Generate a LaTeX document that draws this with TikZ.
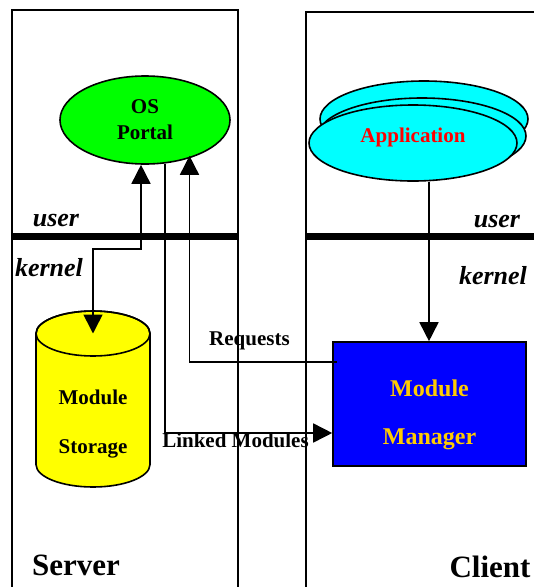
\documentclass[tikz,border=0pt]{standalone}
\usepackage{fontspec}
\setmainfont{Liberation Serif}
\usetikzlibrary{arrows.meta,shapes.geometric,calc}
\definecolor{portalgreen}{RGB}{0,255,0}
\definecolor{appcyan}{RGB}{0,255,255}
\definecolor{storyellow}{RGB}{255,255,0}
\definecolor{mgrblue}{RGB}{0,0,255}
\definecolor{mgrtext}{RGB}{255,204,0}
\definecolor{apptext}{RGB}{255,0,0}
\tikzset{
  thinline/.style={line width=1.6pt},
  conn/.style={line width=1.6pt, -{Triangle[length=19pt,width=19pt]}},
  dconn/.style={line width=1.6pt, {Triangle[length=19pt,width=19pt]}-{Triangle[length=19pt,width=19pt]}},
  lbl/.style={font=\bfseries\fontsize{21}{26}\selectfont, inner sep=0pt, anchor=base},
  layer/.style={font=\bfseries\itshape\fontsize{26}{30}\selectfont, inner sep=0pt, anchor=base},
  sidelbl/.style={font=\bfseries\fontsize{31}{36}\selectfont, inner sep=0pt, anchor=base},
  mgrlbl/.style={font=\bfseries\fontsize{24}{28}\selectfont, inner sep=0pt, anchor=base, text=mgrtext},
  portalshape/.style={ellipse, draw, thinline, fill=portalgreen, minimum width=170pt, minimum height=88pt, inner sep=0pt, align=center, font=\bfseries\fontsize{21}{26}\selectfont},
  appshape/.style={ellipse, draw, thinline, fill=appcyan, minimum width=208pt, minimum height=76pt, inner sep=0pt},
  mgrshape/.style={rectangle, draw, thinline, fill=mgrblue, minimum width=193pt, minimum height=124pt, inner sep=0pt},
}
\begin{document}
\begin{tikzpicture}[x=1pt,y=-1pt]
\useasboundingbox (0,0) rectangle (534,587);
\begin{scope}
  \clip (0,0) rectangle (534,587);
  % swimlanes
  \draw[thinline] (12,600) -- (12,10) -- (238,10) -- (238,600);
  \draw[thinline] (306,600) -- (306,12) -- (540,12);
  % user/kernel boundaries
  \draw[line width=7pt] (12,236) -- (238,236);
  \draw[line width=7pt] (306,236) -- (540,236);
\end{scope}

% layer labels
\node[layer] (suser) at (56,226) {user};
\node[layer] (skernel) at (49,276) {kernel};
\node[layer] (cuser) at (497,227) {user};
\node[layer] (ckernel) at (493,284) {kernel};

% OS portal
\node[portalshape] (portal) at (145,120) {OS\\Portal};

% Application stack
\node[appshape] (app3) at (424,119) {};
\node[appshape] (app2) at (422,136) {};
\node[appshape] (app) at (413,143) {};
\node[lbl, text=apptext, anchor=center] (apptxt) at (413,137.5) {Application};

% Module storage (cylinder)
\draw[thinline, fill=storyellow] (36,333.5) -- (36,464.5)
  arc[start angle=180, end angle=0, x radius=57, y radius=22.5]
  -- (150,333.5)
  arc[start angle=0, end angle=-180, x radius=57, y radius=22.5] -- cycle;
\draw[thinline] (93,333.5) ellipse[x radius=57, y radius=22.5];
\coordinate (stortop) at (93,333.5);
\node[lbl] (stor1) at (93,404) {Module};
\node[lbl] (stor2) at (93,453) {Storage};

% Module manager
\node[mgrshape] (mm) at (429.5,404) {};
\node[mgrlbl] (mm1) at (429.5,396) {Module};
\node[mgrlbl] (mm2) at (429.5,444) {Manager};

% connectors
\coordinate (portalA) at ([xshift=-4pt]portal.south);
\coordinate (portalB) at ([xshift=20pt,yshift=1pt]portal.south);
\coordinate (portalC) at ([xshift=44.5pt,yshift=9pt]portal.south);
\draw[dconn] (stortop) |- ($(portalA)+(0,84)$) -- (portalA);
\draw[conn] (portalB) |- ($(mm.west)+(0,29)$);
\draw[conn] ($(mm.west)+(5,-42)$) -| (portalC);
\draw[conn] ([xshift=-0.5pt]app.south -| mm.north) -- ([xshift=-0.5pt]mm.north);

% connector labels
\node[lbl] (reqlbl) at (249.5,345) {Requests};
\node[lbl] (linklbl) at (235.5,447) {Linked Modules};

% side labels
\node[sidelbl] (server) at (76,575) {Server};
\node[sidelbl] (client) at (490,577) {Client};
\end{tikzpicture}
\end{document}
